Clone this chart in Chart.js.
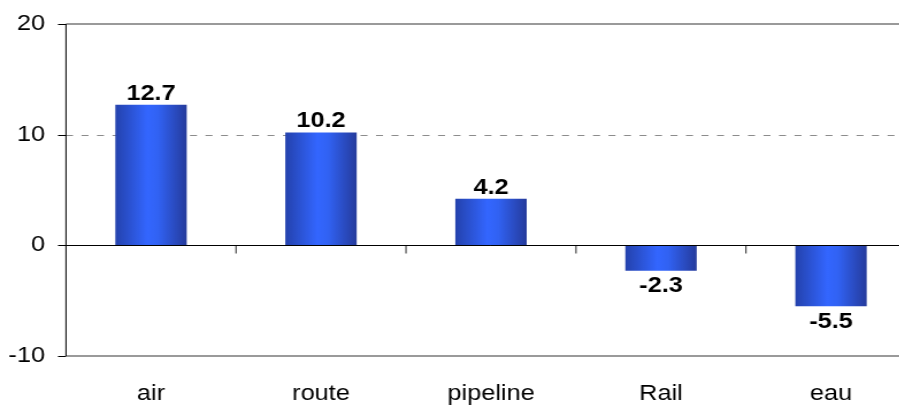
<!DOCTYPE html>
<html>
<head>
<meta charset="utf-8">
<script src="https://cdn.jsdelivr.net/npm/chart.js@4/dist/chart.umd.min.js"></script>
<style>
  html, body { margin: 0; padding: 0; background: #fff; overflow: hidden; }
  #wrap { position: relative; width: 899px; height: 408px; overflow: hidden; }
  /* the drawing is widened slightly on screen, giving the broad lettering */
  #c { position: absolute; left: 0; top: 0; transform: scaleX(1.15); transform-origin: 0 0; }
</style>
</head>
<body>
<div id="wrap"><canvas id="c" width="800" height="408"></canvas></div>
<script>
// transport modes and their change
const categories = ['air', 'route', 'pipeline', 'Rail', 'eau'];
const values = [12.7, 10.2, 4.2, -2.3, -5.5];
const yTicks = [-10, 0, 10, 20];

const FONT = '"Liberation Sans", Arial, sans-serif';
const SX = 1.15;               // on-screen horizontal widening
const PLOT_LEFT = 66 / SX;     // plot area edges in canvas units
const PLOT_RIGHT = 916 / SX;
const BAR_FRAC = 0.42;

function barGradient(context) {
  const chart = context.chart;
  const xs = chart.scales.x;
  if (!chart.chartArea || !xs) return '#3366ff';
  const cx = xs.getPixelForValue(context.dataIndex);
  const half = (xs.width / categories.length) * BAR_FRAC / 2;
  const g = chart.ctx.createLinearGradient(cx - half, 0, cx + half, 0);
  g.addColorStop(0, '#2442ad');
  g.addColorStop(0.45, '#3366ff');
  g.addColorStop(0.6, '#3162f3');
  g.addColorStop(1, '#253b9c');
  return g;
}

const frame = {
  id: 'frame',
  beforeDatasetsDraw(chart) {
    const { ctx, chartArea: a, scales: { y } } = chart;
    ctx.save();
    // solid grey border lines at the ends of the value range
    ctx.strokeStyle = '#9a9a9a';
    ctx.lineWidth = 2;
    [20, -10].forEach(v => {
      const py = y.getPixelForValue(v);
      ctx.beginPath(); ctx.moveTo(a.left, py); ctx.lineTo(a.right, py); ctx.stroke();
    });
    // dashed grid line
    ctx.strokeStyle = '#8c8c8c';
    ctx.lineWidth = 1;
    ctx.setLineDash([7 / SX, 8.5 / SX]);
    const p10 = Math.round(y.getPixelForValue(10)) + 0.5;
    ctx.beginPath(); ctx.moveTo(a.left, p10); ctx.lineTo(a.right, p10); ctx.stroke();
    ctx.setLineDash([]);
    // value axis with its tick marks
    ctx.strokeStyle = '#000';
    ctx.lineWidth = 1.2 / SX;
    ctx.beginPath(); ctx.moveTo(a.left, a.top); ctx.lineTo(a.left, a.bottom); ctx.stroke();
    ctx.lineWidth = 1;
    yTicks.forEach(v => {
      const py = Math.round(y.getPixelForValue(v)) + 0.5;
      ctx.beginPath(); ctx.moveTo(a.left - 8 / SX, py); ctx.lineTo(a.left, py); ctx.stroke();
    });
    ctx.restore();
  },
  afterDatasetsDraw(chart) {
    const { ctx, chartArea: a, scales: { x, y } } = chart;
    ctx.save();
    // zero line with category separators
    const p0 = Math.round(y.getPixelForValue(0)) + 0.5;
    ctx.strokeStyle = '#000';
    ctx.lineWidth = 1;
    ctx.beginPath(); ctx.moveTo(a.left, p0); ctx.lineTo(a.right, p0); ctx.stroke();
    const step = x.width / categories.length;
    ctx.lineWidth = 1 / SX;
    for (let i = 1; i < categories.length; i++) {
      const px = a.left + step * i;
      ctx.beginPath(); ctx.moveTo(px, p0); ctx.lineTo(px, p0 + 8); ctx.stroke();
    }
    // value labels
    ctx.fillStyle = '#000';
    ctx.font = 'bold 22px ' + FONT;
    ctx.textAlign = 'center';
    ctx.textBaseline = 'alphabetic';
    const meta = chart.getDatasetMeta(0);
    meta.data.forEach((bar, i) => {
      const v = values[i];
      const label = v.toFixed(1);
      if (v >= 0) ctx.fillText(label, bar.x, bar.y - 5);
      else ctx.fillText(label, bar.x, bar.y + 21.5);
    });
    ctx.restore();
  }
};

new Chart(document.getElementById('c'), {
  type: 'bar',
  data: {
    labels: categories,
    datasets: [{
      data: values,
      backgroundColor: barGradient,
      borderWidth: 0,
      categoryPercentage: 1,
      barPercentage: BAR_FRAC
    }]
  },
  options: {
    responsive: false,
    animation: false,
    devicePixelRatio: 1,
    layout: { padding: { top: 24, left: 0, right: 800 - PLOT_RIGHT, bottom: 0 } },
    plugins: { legend: { display: false }, tooltip: { enabled: false } },
    scales: {
      x: {
        grid: { display: false, drawTicks: false },
        border: { display: false },
        ticks: { color: '#000', font: { family: FONT, size: 22 }, padding: 25, maxRotation: 0 },
        afterFit(scale) { scale.height = 52; }
      },
      y: {
        min: -10, max: 20,
        afterBuildTicks(scale) { scale.ticks = yTicks.map(v => ({ value: v })); },
        grid: { display: false, drawTicks: false },
        border: { display: false },
        ticks: { color: '#000', font: { family: FONT, size: 22 }, padding: 21 / SX },
        afterFit(scale) {
          scale.width = PLOT_LEFT;
          scale.paddingTop = 0;
          scale.paddingBottom = 0;
        }
      }
    }
  },
  plugins: [frame]
});
</script>
</body>
</html>
